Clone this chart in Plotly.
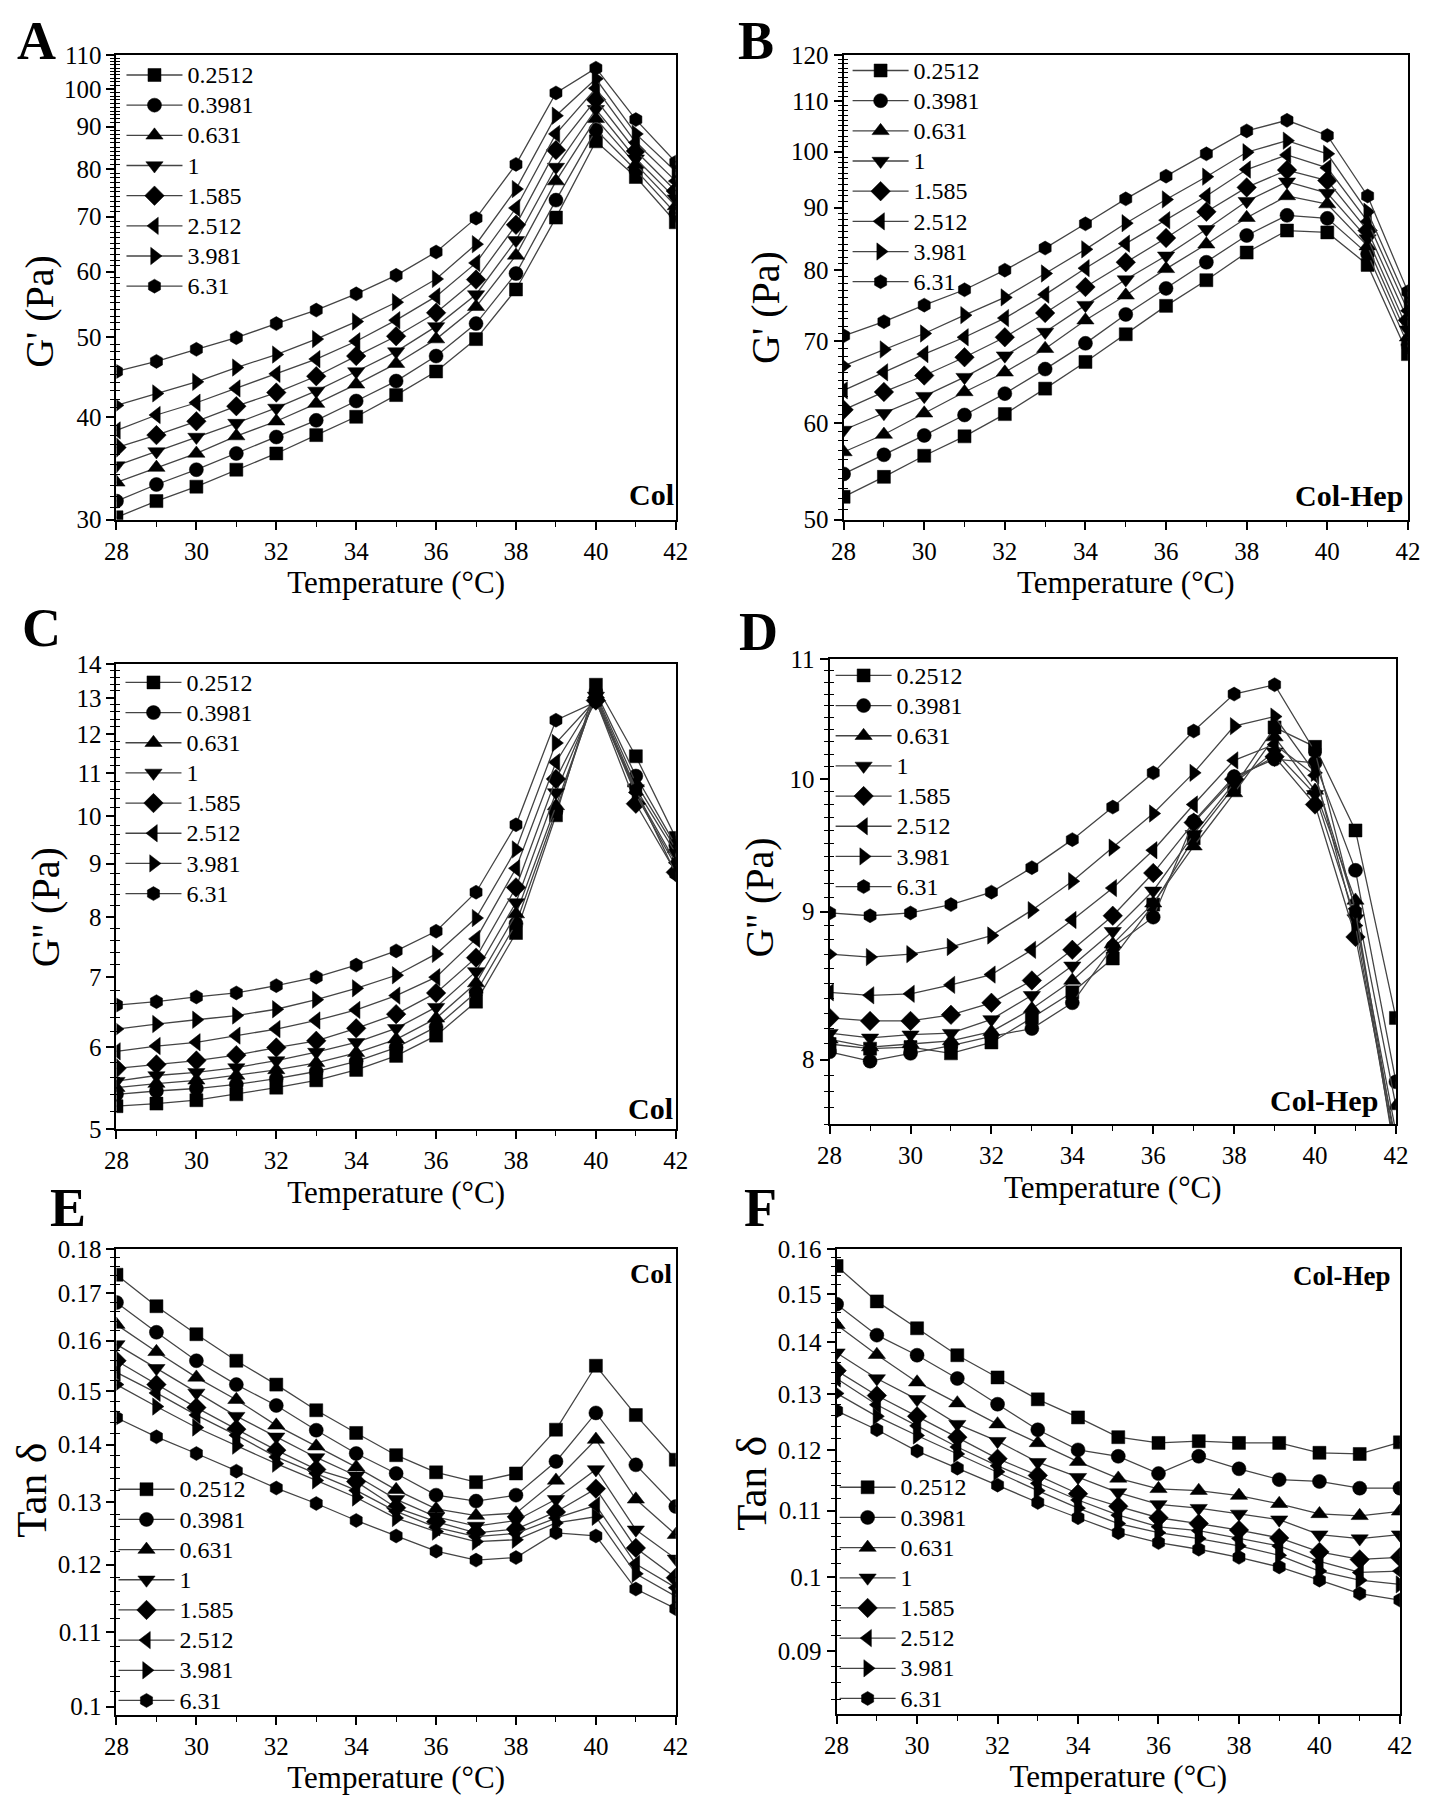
import math
import plotly.graph_objects as go

# ---------------- data ----------------
TEMPERATURE = [28, 29, 30, 31, 32, 33, 34, 35, 36, 37, 38, 39, 40, 41, 42]
FREQ_LABELS = ["0.2512", "0.3981", "0.631", "1", "1.585", "2.512", "3.981", "6.31"]

# G' (Pa), Col  (rows follow FREQ_LABELS)
GP_COL = [
    [30.2, 31.6, 32.9, 34.5, 36.1, 38.0, 40.0, 42.5, 45.4, 49.7, 57.1, 69.8, 86.4, 78.2, 68.9],
    [31.6, 33.1, 34.5, 36.1, 37.8, 39.6, 41.8, 44.2, 47.4, 51.9, 59.7, 73.3, 89.2, 79.7, 70.6],
    [33.3, 34.7, 36.1, 37.9, 39.5, 41.5, 43.8, 46.4, 49.7, 54.4, 62.8, 77.3, 92.0, 81.0, 72.1],
    [34.9, 36.3, 37.8, 39.3, 41.0, 43.0, 45.4, 48.0, 51.5, 56.3, 65.5, 80.4, 94.5, 82.3, 73.6],
    [36.7, 38.0, 39.5, 41.2, 42.8, 44.8, 47.4, 50.1, 53.5, 58.7, 68.4, 84.3, 97.1, 84.1, 75.2],
    [38.5, 40.2, 41.6, 43.3, 45.1, 47.0, 49.4, 52.4, 56.0, 61.5, 71.7, 88.2, 100.2, 86.1, 77.3],
    [41.3, 42.7, 44.1, 45.9, 47.6, 49.7, 52.2, 55.1, 58.8, 64.8, 75.6, 92.8, 102.9, 88.2, 79.4],
    [45.4, 46.7, 48.3, 49.9, 51.9, 53.9, 56.4, 59.4, 63.4, 69.7, 81.0, 98.9, 106.0, 91.8, 81.5],
]

# G' (Pa), Col-Hep
GP_COLHEP = [
    [52.2, 54.2, 56.4, 58.5, 61.0, 64.0, 67.3, 70.9, 74.8, 78.5, 82.7, 86.2, 85.9, 80.8, 68.3],
    [54.5, 56.5, 58.6, 60.9, 63.4, 66.4, 69.7, 73.6, 77.3, 81.2, 85.4, 88.7, 88.2, 82.5, 69.5],
    [56.8, 58.7, 61.1, 63.6, 66.0, 69.0, 72.8, 76.3, 80.2, 84.0, 88.3, 92.0, 90.6, 83.7, 70.5],
    [59.2, 61.1, 63.1, 65.4, 68.1, 71.2, 74.9, 78.6, 82.2, 86.4, 91.1, 94.5, 92.5, 84.9, 71.5],
    [61.5, 63.6, 65.6, 67.9, 70.5, 73.8, 77.5, 81.2, 85.0, 89.3, 93.5, 96.6, 94.7, 86.2, 72.8],
    [63.8, 66.0, 68.3, 70.5, 73.1, 76.4, 80.3, 84.1, 87.9, 92.0, 96.7, 99.4, 97.0, 87.7, 74.1],
    [66.8, 68.9, 71.0, 73.5, 76.0, 79.5, 83.2, 87.4, 91.4, 95.4, 99.9, 102.1, 99.6, 89.3, 75.2],
    [70.7, 72.6, 74.9, 77.1, 80.0, 83.4, 87.3, 91.5, 95.5, 99.6, 104.0, 106.1, 103.1, 92.0, 76.8],
]

# G'' (Pa), Col
GPP_COL = [
    [5.26, 5.29, 5.33, 5.40, 5.48, 5.57, 5.70, 5.88, 6.15, 6.63, 7.72, 10.02, 13.38, 11.42, 9.53],
    [5.40, 5.44, 5.47, 5.52, 5.59, 5.68, 5.81, 5.99, 6.27, 6.77, 7.88, 10.11, 13.17, 10.93, 9.37],
    [5.48, 5.53, 5.57, 5.63, 5.70, 5.79, 5.92, 6.10, 6.39, 6.91, 8.05, 10.23, 13.10, 10.76, 9.30],
    [5.56, 5.63, 5.67, 5.73, 5.82, 5.93, 6.06, 6.25, 6.55, 7.09, 8.26, 10.54, 13.05, 10.63, 9.21],
    [5.72, 5.77, 5.82, 5.89, 5.99, 6.08, 6.25, 6.45, 6.76, 7.31, 8.54, 10.86, 12.92, 10.28, 8.83],
    [5.94, 6.01, 6.06, 6.15, 6.24, 6.36, 6.51, 6.72, 7.00, 7.62, 8.91, 11.27, 13.00, 10.54, 9.02],
    [6.24, 6.31, 6.37, 6.43, 6.52, 6.66, 6.83, 7.03, 7.37, 7.98, 9.29, 11.76, 12.95, 10.49, 8.95],
    [6.58, 6.63, 6.70, 6.76, 6.87, 7.00, 7.19, 7.42, 7.75, 8.45, 9.81, 12.37, 12.88, 10.60, 8.80],
]

# G'' (Pa), Col-Hep
GPP_COLHEP = [
    [8.10, 8.07, 8.08, 8.04, 8.11, 8.27, 8.44, 8.67, 9.05, 9.54, 9.94, 10.42, 10.26, 9.60, 8.27],
    [8.05, 7.99, 8.04, 8.09, 8.15, 8.20, 8.37, 8.75, 8.96, 9.67, 10.02, 10.16, 10.13, 9.30, 7.86],
    [8.13, 8.08, 8.10, 8.12, 8.18, 8.33, 8.52, 8.77, 9.06, 9.48, 9.89, 10.34, 9.91, 9.08, 7.71],
    [8.17, 8.14, 8.16, 8.17, 8.26, 8.42, 8.62, 8.86, 9.15, 9.57, 9.97, 10.22, 9.88, 8.95, 7.55],
    [8.27, 8.25, 8.25, 8.29, 8.37, 8.52, 8.73, 8.97, 9.28, 9.66, 10.00, 10.18, 9.80, 8.82, 7.50],
    [8.44, 8.42, 8.43, 8.49, 8.56, 8.73, 8.94, 9.17, 9.45, 9.80, 10.15, 10.28, 10.03, 9.02, 7.45],
    [8.70, 8.68, 8.70, 8.75, 8.83, 9.01, 9.22, 9.47, 9.73, 10.05, 10.43, 10.51, 10.05, 8.90, 7.42],
    [8.99, 8.97, 8.99, 9.05, 9.14, 9.32, 9.53, 9.78, 10.05, 10.39, 10.70, 10.78, 10.22, 9.00, 7.38],
]

# Tan delta, Col
TAN_COL = [
    [0.1741, 0.1672, 0.1613, 0.1559, 0.1512, 0.1463, 0.1421, 0.1381, 0.1351, 0.1334, 0.1349, 0.1427, 0.1549, 0.1454, 0.1373],
    [0.1680, 0.1617, 0.1559, 0.1512, 0.1472, 0.1426, 0.1384, 0.1349, 0.1312, 0.1302, 0.1312, 0.1370, 0.1458, 0.1364, 0.1293],
    [0.1633, 0.1577, 0.1526, 0.1483, 0.1435, 0.1397, 0.1360, 0.1321, 0.1289, 0.1278, 0.1282, 0.1337, 0.1409, 0.1305, 0.1247],
    [0.1592, 0.1544, 0.1496, 0.1452, 0.1414, 0.1377, 0.1345, 0.1305, 0.1276, 0.1261, 0.1270, 0.1305, 0.1356, 0.1255, 0.1209],
    [0.1559, 0.1512, 0.1468, 0.1428, 0.1390, 0.1356, 0.1335, 0.1291, 0.1268, 0.1250, 0.1256, 0.1284, 0.1323, 0.1226, 0.1180],
    [0.1536, 0.1496, 0.1454, 0.1417, 0.1378, 0.1349, 0.1320, 0.1285, 0.1259, 0.1244, 0.1249, 0.1274, 0.1295, 0.1201, 0.1165],
    [0.1512, 0.1470, 0.1431, 0.1398, 0.1366, 0.1337, 0.1308, 0.1274, 0.1252, 0.1236, 0.1239, 0.1266, 0.1276, 0.1186, 0.1152],
    [0.1449, 0.1414, 0.1384, 0.1353, 0.1324, 0.1298, 0.1270, 0.1245, 0.1221, 0.1207, 0.1211, 0.1250, 0.1245, 0.1163, 0.1134],
]

# Tan delta, Col-Hep
TAN_COLHEP = [
    [0.1561, 0.1484, 0.1428, 0.1374, 0.1331, 0.1290, 0.1257, 0.1222, 0.1212, 0.1215, 0.1212, 0.1212, 0.1195, 0.1193, 0.1213],
    [0.1478, 0.1414, 0.1374, 0.1329, 0.1281, 0.1235, 0.1200, 0.1189, 0.1160, 0.1189, 0.1168, 0.1150, 0.1147, 0.1136, 0.1136],
    [0.1435, 0.1375, 0.1322, 0.1283, 0.1245, 0.1212, 0.1180, 0.1152, 0.1135, 0.1132, 0.1124, 0.1111, 0.1095, 0.1092, 0.1099],
    [0.1379, 0.1329, 0.1290, 0.1245, 0.1215, 0.1179, 0.1154, 0.1129, 0.1110, 0.1104, 0.1095, 0.1086, 0.1063, 0.1057, 0.1063],
    [0.1344, 0.1297, 0.1259, 0.1222, 0.1185, 0.1157, 0.1127, 0.1107, 0.1089, 0.1080, 0.1070, 0.1058, 0.1037, 0.1026, 0.1029],
    [0.1329, 0.1280, 0.1242, 0.1205, 0.1173, 0.1144, 0.1117, 0.1093, 0.1075, 0.1069, 0.1057, 0.1046, 0.1023, 0.1007, 0.1009],
    [0.1301, 0.1259, 0.1225, 0.1193, 0.1163, 0.1132, 0.1104, 0.1080, 0.1066, 0.1057, 0.1046, 0.1032, 0.1009, 0.0996, 0.0990],
    [0.1269, 0.1235, 0.1198, 0.1169, 0.1141, 0.1113, 0.1089, 0.1066, 0.1051, 0.1041, 0.1029, 0.1015, 0.0996, 0.0977, 0.0968],
]

# tick labels
YTICKS_GP_COL = ["30", "40", "50", "60", "70", "80", "90", "100", "110"]
YTICKS_GP_COLHEP = ["50", "60", "70", "80", "90", "100", "110", "120"]
YTICKS_GPP_COL = ["5", "6", "7", "8", "9", "10", "11", "12", "13", "14"]
YTICKS_GPP_COLHEP = ["8", "9", "10", "11"]
YTICKS_TAN_COL = ["0.1", "0.11", "0.12", "0.13", "0.14", "0.15", "0.16", "0.17", "0.18"]
YTICKS_TAN_COLHEP = ["0.09", "0.1", "0.11", "0.12", "0.13", "0.14", "0.15", "0.16"]

# ---------------- styling ----------------
W, H = 1429, 1800
FONT = "Liberation Serif"
SYMBOLS = ["square", "circle", "triangle-up", "triangle-down", "diamond",
           "triangle-left", "triangle-right", "hexagon"]
MSIZES = [13, 14, 15, 15, 15, 15, 15, 14]


# screen-pixel -> paper coordinate helpers (compensate page offset/scale)
def SX(px):
    return (px - 21.4) / 0.983 / W


def SY(px):
    return 1 - (px - 19.0) / 0.9876 / H


PANELS = [
    dict(letter="A", data=GP_COL, ticks=YTICKS_GP_COL, yr=(30, 110), minor=1.0,
         box=(117, 677, 53, 519), ytitle="G' (Pa)", ysz=40, ytpos=(40, 310),
         tag="Col", tsz=30, tagpos=(677, 494), leg=(127, 73), letterpos=(37, 39)),
    dict(letter="B", data=GP_COLHEP, ticks=YTICKS_GP_COLHEP, yr=(50, 120), minor=1.0,
         box=(845, 1410, 53, 519), ytitle="G' (Pa)", ysz=40, ytpos=(767, 306),
         tag="Col-Hep", tsz=30, tagpos=(1407, 495), leg=(854, 68.5), letterpos=(757, 39)),
    dict(letter="C", data=GPP_COL, ticks=YTICKS_GPP_COL, yr=(5, 14), minor=0.2,
         box=(117, 677, 664, 1130), ytitle="G'' (Pa)", ysz=40, ytpos=(46, 908),
         tag="Col", tsz=30, tagpos=(676, 1109), leg=(126, 682), letterpos=(42, 628)),
    dict(letter="D", data=GPP_COLHEP, ticks=YTICKS_GPP_COLHEP, yr=(7.6, 11), minor=0.1,
         box=(831, 1398, 659, 1125), ytitle="G'' (Pa)", ysz=40, ytpos=(761, 898),
         tag="Col-Hep", tsz=30, tagpos=(1382, 1101), leg=(837, 675), letterpos=(760, 632)),
    dict(letter="E", data=TAN_COL, ticks=YTICKS_TAN_COL, yr=(0.099, 0.18), minor=0.002,
         box=(117, 677, 1250, 1717), ytitle="Tan δ", ysz=43, ytpos=(32, 1492),
         tag="Col", tsz=28, tagpos=(675, 1275), leg=(119, 1491), letterpos=(68, 1209)),
    dict(letter="F", data=TAN_COLHEP, ticks=YTICKS_TAN_COLHEP, yr=(0.0823, 0.16), minor=0.002,
         box=(838, 1402, 1250, 1716), ytitle="Tan δ", ysz=43, ytpos=(752, 1485),
         tag="Col-Hep", tsz=27, tagpos=(1395, 1277), leg=(841, 1489), letterpos=(762, 1209)),
]

fig = go.Figure()
layout = dict(
    width=W, height=H, margin=dict(l=0, r=0, t=0, b=0),
    paper_bgcolor="white", plot_bgcolor="white",
    font=dict(family=FONT, color="black", size=24),
    annotations=[],
)

naxes = len(PANELS)
for i, p in enumerate(PANELS):
    n = "" if i == 0 else str(i + 1)
    xname, yname = "xaxis" + n, "yaxis" + n
    xref, yref = "x" + n, "y" + n
    legname = "legend" + n
    x0, x1, y0, y1 = p["box"]

    for k, row in enumerate(p["data"]):
        fig.add_trace(go.Scatter(
            x=TEMPERATURE, y=row, mode="lines+markers",
            name="<span style='font-size:24px'>%s</span>" % FREQ_LABELS[k],
            xaxis=xref, yaxis=yref, legend=legname,
            line=dict(color="#444444", width=1.3),
            marker=dict(symbol=SYMBOLS[k], size=MSIZES[k], color="black",
                        line=dict(color="black", width=0.5)),
        ))

    lo, hi = p["yr"]
    yrange = [math.log10(lo), math.log10(hi)]
    tickvals = [float(t) for t in p["ticks"]]
    step = p["minor"]
    minor_vals = []
    v = math.floor(lo / step) * step
    while v <= hi + 1e-12:
        vv = round(v, 6)
        if vv >= lo and all(abs(vv - t) > step / 10 for t in tickvals):
            minor_vals.append(vv)
        v += step

    common = dict(showline=True, linewidth=2, linecolor="black", mirror=True,
                  ticks="outside", ticklen=8, tickwidth=1.6, tickcolor="black",
                  showgrid=False, zeroline=False,
                  tickfont=dict(family=FONT, size=25, color="black"))
    layout[xname] = dict(
        common, domain=[SX(x0), SX(x1)], anchor=yref, range=[28, 42],
        tickmode="linear", tick0=28, dtick=2,
        minor=dict(ticks="outside", ticklen=5, tickwidth=1.4, tickcolor="black",
                   tickmode="linear", tick0=28, dtick=1),
        title=dict(text="Temperature (°C)", standoff=8,
                   font=dict(family=FONT, size=31, color="black")),
    )
    layout[yname] = dict(
        common, domain=[SY(y1), SY(y0)], anchor=xref, type="log", range=yrange,
        tickmode="array", tickvals=tickvals, ticktext=p["ticks"],
    )

    # minor ticks (crossing the axis line) drawn by two overlaying tick-only axes
    for j, side in enumerate(["outside", "inside"]):
        idx = naxes + 1 + 2 * i + j
        oname, oref = "yaxis%d" % idx, "y%d" % idx
        layout[oname] = dict(
            overlaying=yref, anchor=xref, side="left", type="log", range=yrange,
            tickmode="array", tickvals=minor_vals, ticks=side, ticklen=5 if j == 0 else 4,
            tickwidth=1.2, tickcolor="black", showticklabels=False,
            showline=False, showgrid=False, zeroline=False,
        )
        fig.add_trace(go.Scatter(x=[], y=[], xaxis=xref, yaxis=oref,
                                 showlegend=False, hoverinfo="skip"))

    lsx, lsy = p["leg"]  # screen position of legend line start / first row centre
    layout[legname] = dict(
        x=SX(lsx - 5), y=SY(lsy - 20), xanchor="left", yanchor="top",
        bgcolor="rgba(0,0,0,0)", borderwidth=0, itemwidth=56,
        font=dict(family=FONT, size=20.9, color="black"),
        tracegroupgap=0, traceorder="normal",
    )
    ytx, yty = p["ytpos"]
    layout["annotations"].append(dict(
        text=p["ytitle"], x=SX(ytx), y=SY(yty), xref="paper", yref="paper",
        xanchor="center", yanchor="middle", textangle=-90, showarrow=False,
        font=dict(family=FONT, size=p["ysz"], color="black")))
    tx, ty = p["tagpos"]
    layout["annotations"].append(dict(
        text="<b>%s</b>" % p["tag"], x=SX(tx), y=SY(ty), xref="paper", yref="paper",
        xanchor="right", yanchor="middle", showarrow=False,
        font=dict(family=FONT, size=p["tsz"], color="black")))
    lxp, lyp = p["letterpos"]
    layout["annotations"].append(dict(
        text="<b>%s</b>" % p["letter"], x=SX(lxp), y=SY(lyp), xref="paper", yref="paper",
        xanchor="center", yanchor="middle", showarrow=False,
        font=dict(family=FONT, size=54, color="black")))

fig.update_layout(**layout)
fig.write_html("out.html")
